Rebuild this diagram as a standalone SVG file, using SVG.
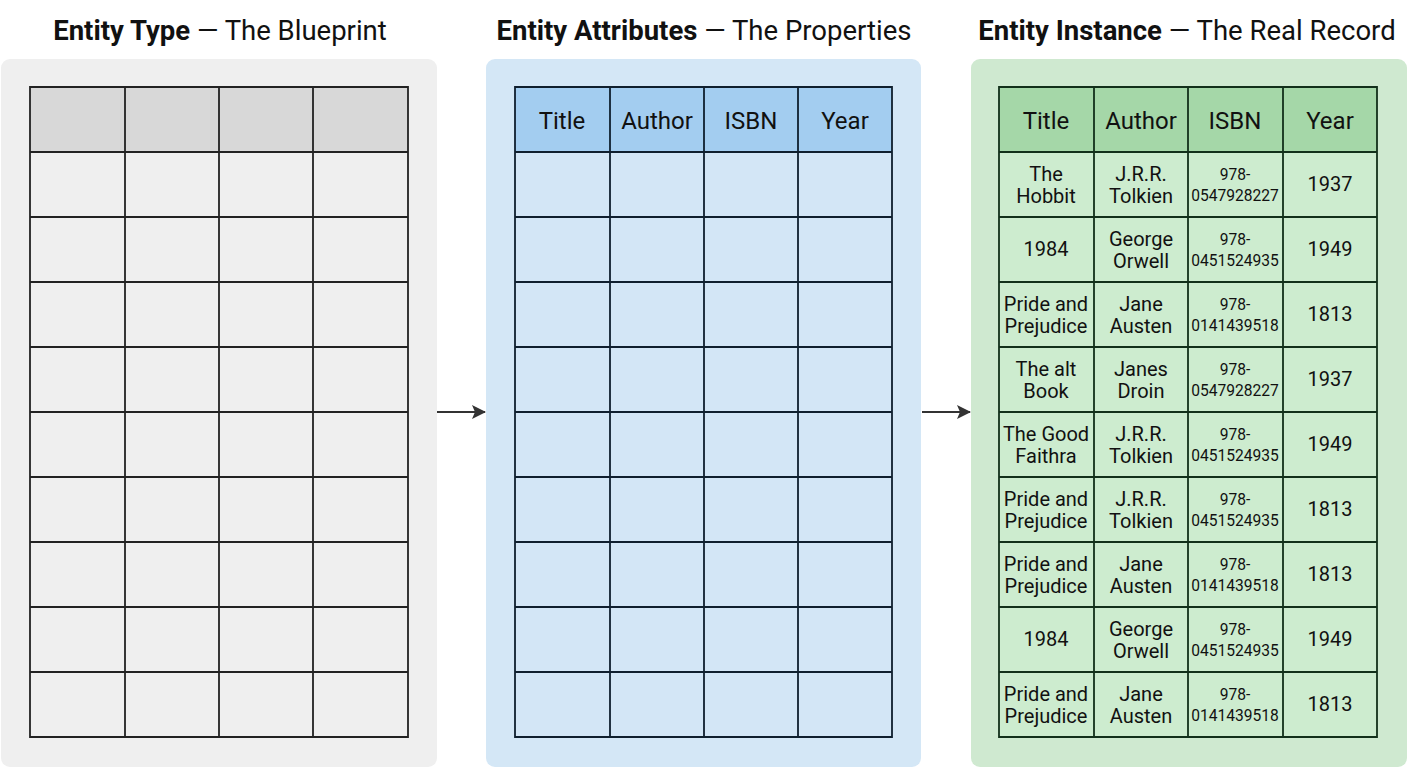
<svg xmlns="http://www.w3.org/2000/svg" width="1408" height="768" viewBox="0 0 1408 768">
<defs>
<style>
.title{font-family:Roboto,"Liberation Sans",sans-serif;font-size:27.5px;fill:#111;text-anchor:middle}
.title .b{font-weight:bold}
.hd{font-family:Roboto,"Liberation Sans",sans-serif;font-size:24px;fill:#111;text-anchor:middle}
.c{font-family:Roboto,"Liberation Sans",sans-serif;font-size:20px;fill:#111;text-anchor:middle}
.n{font-family:Roboto,"Liberation Sans",sans-serif;font-size:15.6px;fill:#111;text-anchor:middle}
.grid{fill:none;stroke-width:1.8}
.conn{stroke:#333;stroke-width:2;fill:none}
</style>
<marker id="ah" viewBox="0 0 14 14" refX="13" refY="7" markerWidth="14" markerHeight="14" markerUnits="userSpaceOnUse" orient="auto">
<path d="M0,0 L14,7 L0,14 L3,7 z" fill="#333"/>
</marker>
</defs>
<rect width="1408" height="768" fill="#ffffff"/>

<g id="panel-type">
<text class="title" x="220" y="40"><tspan class="b">Entity Type</tspan> — The Blueprint</text>
<rect x="1" y="59" width="436" height="708" rx="9" fill="#efefef"/>
<rect x="30" y="87" width="378" height="650" fill="#efefef"/>
<rect x="30" y="87" width="378" height="65" fill="#d8d8d8"/>
<path class="grid" stroke="#222" d="M30,87H408V737H30Z M125,87V737 M219,87V737 M313,87V737 M30,152H408 M30,217H408 M30,282H408 M30,347H408 M30,412H408 M30,477H408 M30,542H408 M30,607H408 M30,672H408"/>
</g>

<g id="panel-attributes">
<text class="title" x="704" y="40"><tspan class="b">Entity Attributes</tspan> — The Properties</text>
<rect x="486" y="59" width="435" height="708" rx="9" fill="#d4e7f6"/>
<rect x="515" y="87" width="377" height="650" fill="#d3e6f6"/>
<rect x="515" y="87" width="377" height="65" fill="#a3cdf0"/>
<path class="grid" stroke="#0f1f2e" d="M515,87H892V737H515Z M610,87V737 M704,87V737 M798,87V737 M515,152H892 M515,217H892 M515,282H892 M515,347H892 M515,412H892 M515,477H892 M515,542H892 M515,607H892 M515,672H892"/>
<text class="hd" x="562" y="129">Title</text>
<text class="hd" x="657" y="129">Author</text>
<text class="hd" x="751" y="129">ISBN</text>
<text class="hd" x="845" y="129">Year</text>
</g>

<g id="panel-instance">
<text class="title" x="1187" y="40"><tspan class="b">Entity Instance</tspan> — The Real Record</text>
<rect x="971" y="59" width="436" height="708" rx="9" fill="#cfe9d0"/>
<rect x="999" y="87" width="378" height="650" fill="#cdeccf"/>
<rect x="999" y="87" width="378" height="65" fill="#a5d7a8"/>
<path class="grid" stroke="#12301a" d="M999,87H1377V737H999Z M1094,87V737 M1188,87V737 M1283,87V737 M999,152H1377 M999,217H1377 M999,282H1377 M999,347H1377 M999,412H1377 M999,477H1377 M999,542H1377 M999,607H1377 M999,672H1377"/>
<text class="hd" x="1046" y="129">Title</text>
<text class="hd" x="1141" y="129">Author</text>
<text class="hd" x="1235" y="129">ISBN</text>
<text class="hd" x="1330" y="129">Year</text>

<g id="row1">
<text class="c" x="1046" y="181">The</text><text class="c" x="1046" y="203">Hobbit</text>
<text class="c" x="1141" y="181">J.R.R.</text><text class="c" x="1141" y="203">Tolkien</text>
<text class="n" x="1235" y="180">978-</text><text class="n" x="1235" y="201">0547928227</text>
<text class="c" x="1330" y="191">1937</text>
</g>
<g id="row2">
<text class="c" x="1046" y="256">1984</text>
<text class="c" x="1141" y="246">George</text><text class="c" x="1141" y="268">Orwell</text>
<text class="n" x="1235" y="245">978-</text><text class="n" x="1235" y="266">0451524935</text>
<text class="c" x="1330" y="256">1949</text>
</g>
<g id="row3">
<text class="c" x="1046" y="311">Pride and</text><text class="c" x="1046" y="333">Prejudice</text>
<text class="c" x="1141" y="311">Jane</text><text class="c" x="1141" y="333">Austen</text>
<text class="n" x="1235" y="310">978-</text><text class="n" x="1235" y="331">0141439518</text>
<text class="c" x="1330" y="321">1813</text>
</g>
<g id="row4">
<text class="c" x="1046" y="376">The alt</text><text class="c" x="1046" y="398">Book</text>
<text class="c" x="1141" y="376">Janes</text><text class="c" x="1141" y="398">Droin</text>
<text class="n" x="1235" y="375">978-</text><text class="n" x="1235" y="396">0547928227</text>
<text class="c" x="1330" y="386">1937</text>
</g>
<g id="row5">
<text class="c" x="1046" y="441">The Good</text><text class="c" x="1046" y="463">Faithra</text>
<text class="c" x="1141" y="441">J.R.R.</text><text class="c" x="1141" y="463">Tolkien</text>
<text class="n" x="1235" y="440">978-</text><text class="n" x="1235" y="461">0451524935</text>
<text class="c" x="1330" y="451">1949</text>
</g>
<g id="row6">
<text class="c" x="1046" y="506">Pride and</text><text class="c" x="1046" y="528">Prejudice</text>
<text class="c" x="1141" y="506">J.R.R.</text><text class="c" x="1141" y="528">Tolkien</text>
<text class="n" x="1235" y="505">978-</text><text class="n" x="1235" y="526">0451524935</text>
<text class="c" x="1330" y="516">1813</text>
</g>
<g id="row7">
<text class="c" x="1046" y="571">Pride and</text><text class="c" x="1046" y="593">Prejudice</text>
<text class="c" x="1141" y="571">Jane</text><text class="c" x="1141" y="593">Austen</text>
<text class="n" x="1235" y="570">978-</text><text class="n" x="1235" y="591">0141439518</text>
<text class="c" x="1330" y="581">1813</text>
</g>
<g id="row8">
<text class="c" x="1046" y="646">1984</text>
<text class="c" x="1141" y="636">George</text><text class="c" x="1141" y="658">Orwell</text>
<text class="n" x="1235" y="635">978-</text><text class="n" x="1235" y="656">0451524935</text>
<text class="c" x="1330" y="646">1949</text>
</g>
<g id="row9">
<text class="c" x="1046" y="701">Pride and</text><text class="c" x="1046" y="723">Prejudice</text>
<text class="c" x="1141" y="701">Jane</text><text class="c" x="1141" y="723">Austen</text>
<text class="n" x="1235" y="700">978-</text><text class="n" x="1235" y="721">0141439518</text>
<text class="c" x="1330" y="711">1813</text>
</g>
</g>

<g id="connectors">
<line class="conn" x1="437" y1="412" x2="485" y2="412" marker-end="url(#ah)"/>
<line class="conn" x1="922" y1="412" x2="970" y2="412" marker-end="url(#ah)"/>
</g>
</svg>
